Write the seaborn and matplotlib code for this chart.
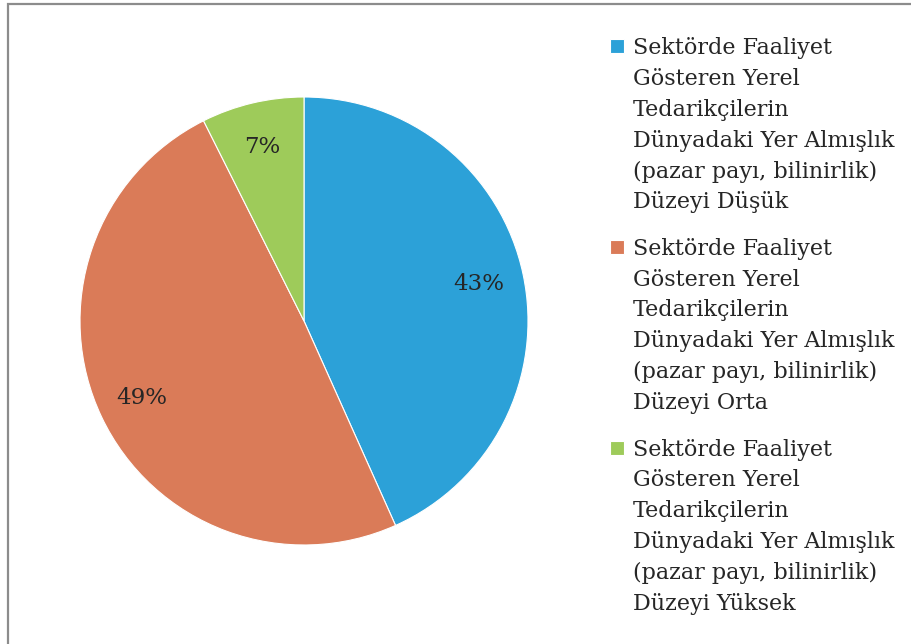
import matplotlib.pyplot as plt
import matplotlib.patches as mpatches
from matplotlib.legend_handler import HandlerPatch
import seaborn as sns

# shares
labels = [
    "Sektörde Faaliyet\nGösteren Yerel\nTedarikçilerin\nDünyadaki Yer Almışlık\n(pazar payı, bilinirlik)\nDüzeyi Düşük",
    "Sektörde Faaliyet\nGösteren Yerel\nTedarikçilerin\nDünyadaki Yer Almışlık\n(pazar payı, bilinirlik)\nDüzeyi Orta",
    "Sektörde Faaliyet\nGösteren Yerel\nTedarikçilerin\nDünyadaki Yer Almışlık\n(pazar payı, bilinirlik)\nDüzeyi Yüksek",
]
shares = [43.3, 49.3, 7.4]
colors = ["#2ca1d8", "#da7b58", "#9ecb5a"]

sns.set_theme(style="white")
plt.rcParams['font.family'] = ['DejaVu Serif']
text_color = "#262626"
fs = 16

fig = plt.figure(figsize=(9.12, 6.44), dpi=100)
ax = fig.add_axes([80 / 912, 99 / 644, 448 / 912, 448 / 644])

wedges, _, autotexts = ax.pie(
    shares, colors=sns.color_palette(colors), startangle=90, counterclock=False,
    autopct="%1.0f%%", pctdistance=0.8, radius=1.0,
    wedgeprops=dict(edgecolor="white", linewidth=0.8),
    textprops=dict(color=text_color, fontsize=16.5),
)
ax.set_xlim(-1, 1)
ax.set_ylim(-1, 1)
ax.set_aspect("equal")


# square marker lifted up next to the first line of each wrapped label
def top_square(legend, orig_handle, xdescent, ydescent, width, height, fontsize):
    s = width
    lift = 3.56 * fontsize
    return mpatches.Rectangle((-xdescent, -ydescent + height - s + lift), s, s)


leg = fig.legend(
    wedges, labels, loc="upper left", bbox_to_anchor=(590 / 912, 1 - 17 / 644),
    frameon=False, fontsize=fs, handlelength=0.63, handleheight=0.63,
    handletextpad=0.4, labelspacing=1.1, labelcolor=text_color,
    handler_map={mpatches.Wedge: HandlerPatch(patch_func=top_square)},
)
for t in leg.get_texts():
    t.set_linespacing(1.52)

# grey frame along the top and left edges
fig.patches.append(mpatches.Rectangle(
    (8 / 912, -0.1), 1.2, 1 - 4 / 644 + 0.1, transform=fig.transFigure,
    fill=False, edgecolor="#8c8c8c", linewidth=1.6, figure=fig))

fig.savefig("out.png", dpi=100)
